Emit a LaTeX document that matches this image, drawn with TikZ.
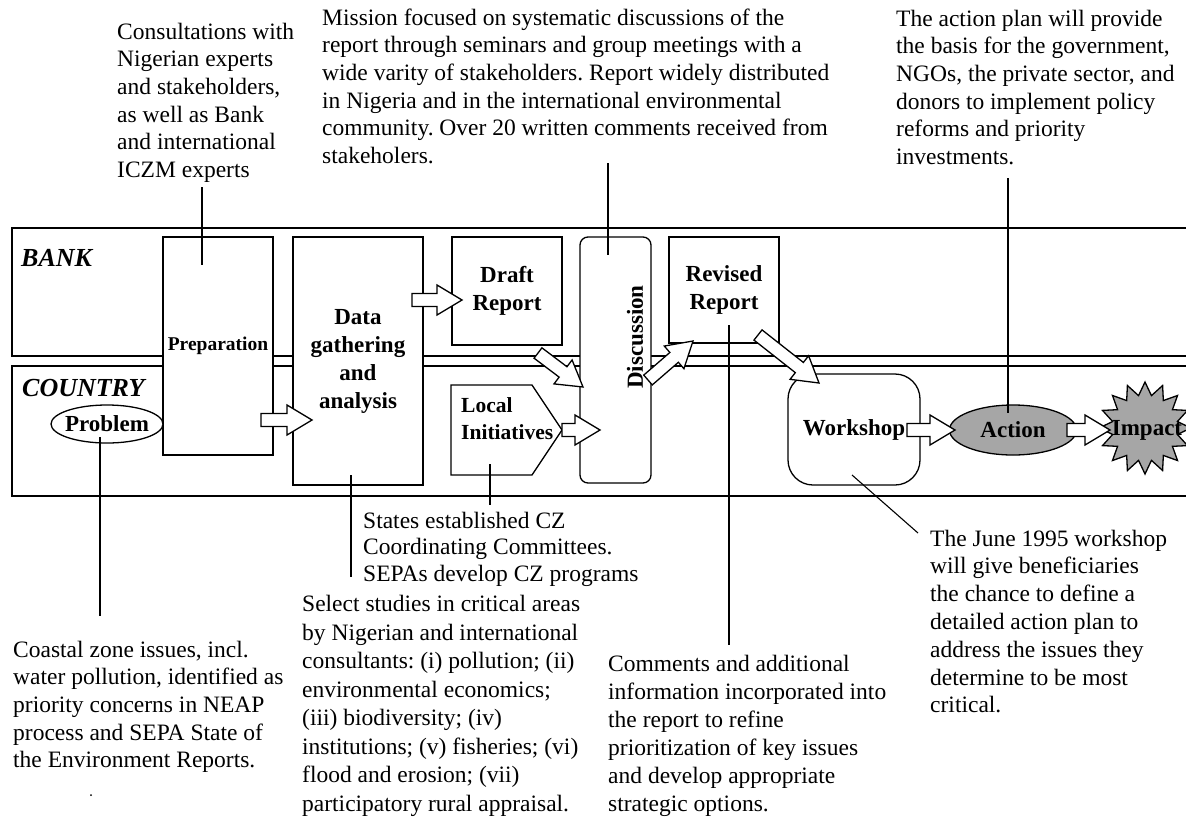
\documentclass[tikz,border=0pt]{standalone}
\usepackage{fontspec}
\setmainfont{Liberation Serif}
\usetikzlibrary{calc,shapes.geometric}
\frenchspacing
\begin{document}
\begin{tikzpicture}[x=1pt,y=-1pt,
  box/.style={draw, line width=1.3pt, fill=white, inner sep=0pt, align=center,
              font=\fontsize{23}{28}\selectfont\bfseries},
  lane/.style={draw, line width=1.3pt},
  lead/.style={draw, line width=1.1pt},
  note/.style={anchor=base west, align=left, inner sep=0pt,
               font=\fontsize{23.5}{27.7}\selectfont},
  lanelabel/.style={anchor=base west, inner sep=0pt,
               font=\fontsize{26}{30}\selectfont\bfseries\itshape},
  shaded/.style={draw, line width=1.3pt, fill=black!35},
  barrow/.style={draw, line width=1.3pt, fill=white, line join=miter,
   to path={let \p1=(\tikztostart), \p2=(\tikztotarget),
     \n1={atan2(\y2-\y1,\x2-\x1)}, \n2={veclen(\x2-\x1,\y2-\y1)} in
     ($(\p1)+({\n1+90}:6.5pt)$)
     -- ($(\p1)+(\n1:{\n2-25pt})+({\n1+90}:6.5pt)$)
     -- ($(\p1)+(\n1:{\n2-25pt})+({\n1+90}:15pt)$)
     -- (\p2)
     -- ($(\p1)+(\n1:{\n2-25pt})+({\n1-90}:15pt)$)
     -- ($(\p1)+(\n1:{\n2-25pt})+({\n1-90}:6.5pt)$)
     -- ($(\p1)+({\n1-90}:6.5pt)$) -- cycle}}
]
\useasboundingbox (0,0) rectangle (1186,817);

% lanes
\draw[lane] (1200,228) -- (12,228) -- (12,356) -- (1200,356);
\draw[lane] (1200,366) -- (12,366) -- (12,496) -- (1200,496);
\node[lanelabel] (bank) at (21,266) {BANK};
\node[lanelabel] (country) at (22,396) {COUNTRY};

% boxes
\node[box, minimum width=110pt, minimum height=218pt,
      font=\fontsize{19.5}{24}\selectfont\bfseries] (prep) at (218,346) {Preparation};
\node[box, minimum width=130pt, minimum height=248pt] (data) at (358,361) {Data\\gathering\\and\\analysis};
\node[box, minimum width=110pt, minimum height=108pt] (draft) at (507,291) {Draft\\Report};
\node[box, minimum width=71pt, minimum height=246pt, rounded corners=8pt] (disc) at (615.5,360) {};
\node[rotate=90, inner sep=0pt, font=\fontsize{23}{28}\selectfont\bfseries] (disctext) at (635,337) {Discussion};
\node[box, minimum width=110pt, minimum height=106pt] (revised) at (724,290) {Revised\\Report};
\draw[box] (451,385) -- (532,385) -- (562,430) -- (532,475) -- (451,475) -- cycle;
\coordinate (localtip) at (562,430);
\node[anchor=west, align=left, inner sep=0pt, font=\fontsize{21.5}{27}\selectfont\bfseries] (local) at (461,418.5) {Local\\Initiatives};
\node[box, minimum width=132pt, minimum height=111pt, rounded corners=25pt] (workshop) at (854,429.5) {Workshop};
\node[ellipse, shaded, minimum width=127pt, minimum height=50pt, inner sep=0pt,
      label={[font=\fontsize{23}{28}\selectfont\bfseries]center:Action}] (action) at (1013,430) {};
\node[ellipse, draw, line width=1.3pt, fill=white, minimum width=112pt, minimum height=38pt, inner sep=0pt,
      label={[font=\fontsize{23}{28}\selectfont\bfseries]center:Problem}] (problem) at (107,424) {};

% impact star
\coordinate (impact) at (1145,428);
\draw[shaded] ($(impact)+(0:46pt)$)
  \foreach \i [evaluate=\i as \r using {mod(\i,2)==0 ? 46 : 33}] in {1,...,31} { -- ($(impact)+(\i*11.25:\r pt)$) } -- cycle;
\node[inner sep=0pt, font=\fontsize{23}{28}\selectfont\bfseries] (impacttext) at (1147,430) {Impact};

% block arrows
\coordinate (a1s) at (261,420); \coordinate (a1e) at (312,420);
\coordinate (a2s) at (412,300); \coordinate (a2e) at (462,300);
\coordinate (a3s) at (538,353); \coordinate (a3e) at (583,387);
\coordinate (a4e) at (600,430);
\coordinate (a5s) at (648,380); \coordinate (a5e) at (693,341);
\coordinate (a6s) at (758,335); \coordinate (a6e) at (819,383);
\coordinate (a7s) at (907,430); \coordinate (a7e) at (955,430);
\coordinate (a8s) at (1067,430); \coordinate (a8e) at (1110,430);
\path[barrow] (a1s) to (a1e);
\path[barrow] (a2s) to (a2e);
\path[barrow] (a3s) to (a3e);
\path[barrow] (localtip) to (a4e);
\path[barrow] (a5s) to (a5e);
\path[barrow] (a6s) to (a6e);
\path[barrow] (a7s) to (a7e);
\path[barrow] (a8s) to (a8e);

% notes (anchored at the baseline of their last line)
\node[note] (consult) at (117,177.5) {Consultations with\\Nigerian experts\\and stakeholders,\\as well as Bank\\and international\\ICZM experts};
\node[note] (mission) at (322,163.5) {Mission focused on systematic discussions of the\\report through seminars and group meetings with a\\wide varity of stakeholders. Report widely distributed\\in Nigeria and in the international environmental\\community. Over 20 written comments received from\\stakeholers.};
\node[note] (actiontxt) at (896,164.5) {The action plan will provide\\the basis for the government,\\NGOs, the private sector, and\\donors to implement policy\\reforms and priority\\investments.};
\node[note] (coastal) at (13,767.8) {Coastal zone issues, incl.\\water pollution, identified as\\priority concerns in NEAP\\process and SEPA State of\\the Environment Reports.};
\node[note, font=\fontsize{23.5}{26.5}\selectfont] (states) at (363,581) {States established CZ\\Coordinating Committees.\\SEPAs develop CZ programs};
\node[note, font=\fontsize{23.5}{28.5}\selectfont] (select) at (302,811) {Select studies in critical areas\\by Nigerian and international\\consultants: (i) pollution; (ii)\\environmental economics;\\(iii) biodiversity; (iv)\\institutions; (v) fisheries; (vi)\\flood and erosion; (vii)\\participatory rural appraisal.};
\node[note, font=\fontsize{23.5}{28}\selectfont] (comments) at (608,811) {Comments and additional\\information incorporated into\\the report to refine\\prioritization of key issues\\and develop appropriate\\strategic options.};
\node[note, font=\fontsize{23.5}{27.8}\selectfont] (june) at (930,712.8) {The June 1995 workshop\\will give beneficiaries\\the chance to define a\\detailed action plan to\\address the issues they\\determine to be most\\critical.};

% leader lines
\coordinate (l1a) at (202,187); \coordinate (l1b) at (202,265);
\coordinate (l2a) at (608,163); \coordinate (l2b) at (608,255);
\coordinate (l3a) at (1008,178); \coordinate (l3b) at (1008,413);
\coordinate (l4a) at (100,437); \coordinate (l4b) at (100,616);
\coordinate (l5a) at (351,475); \coordinate (l5b) at (351,577);
\coordinate (l6a) at (490,464); \coordinate (l6b) at (490,505);
\coordinate (l7a) at (729,325); \coordinate (l7b) at (729,645);
\coordinate (l8a) at (852,475); \coordinate (l8b) at (918,533);
\draw[lead] (l1a) -- (l1b);
\draw[lead] (l2a) -- (l2b);
\draw[lead] (l3a) -- (l3b);
\draw[lead] (l4a) -- (l4b);
\draw[lead] (l5a) -- (l5b);
\draw[lead] (l6a) -- (l6b);
\draw[lead] (l7a) -- (l7b);
\draw[lead] (l8a) -- (l8b);

\fill (91,795) circle (1pt);
\end{tikzpicture}
\end{document}
